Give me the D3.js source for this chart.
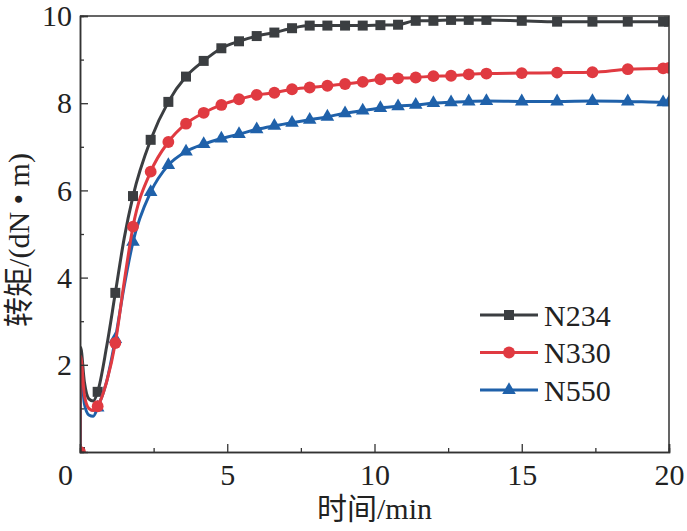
<!DOCTYPE html>
<html>
<head>
<meta charset="utf-8">
<script src="https://cdn.jsdelivr.net/npm/d3@7"></script>
<style>
  body { margin: 0; background: #fff; }
  svg { display: block; }
  text { font-family: "Liberation Serif", "Noto Sans CJK SC", serif; fill: #222; }
</style>
</head>
<body>
<div id="chart"></div>
<script>
// sample times (min); markers only sit on markerTimes
const times = [0, 0.02, 0.15, 0.3, 0.45, 0.6, 0.9, 1.2, 1.5, 1.8, 2.4, 3.0, 3.6, 4.2, 4.8, 5.4, 6.0, 6.6, 7.2, 7.8,
  8.4, 9.0, 9.6, 10.2, 10.8, 11.4, 12.0, 12.6, 13.2, 13.8, 15.0, 16.2, 17.4, 18.6, 19.8, 20];
const markerTimes = [0, 0.6, 1.2, 1.8, 2.4, 3.0, 3.6, 4.2, 4.8, 5.4, 6.0, 6.6, 7.2, 7.8,
  8.4, 9.0, 9.6, 10.2, 10.8, 11.4, 12.0, 12.6, 13.2, 13.8, 15.0, 16.2, 17.4, 18.6, 19.8, 20];

const n234 = [0, 2.4, 1.6, 1.22, 1.17, 1.38, 2.4, 3.65, 4.9, 5.87, 7.16, 8.03, 8.61, 8.97, 9.26, 9.42, 9.54, 9.62, 9.72, 9.78,
  9.78, 9.78, 9.78, 9.79, 9.80, 9.89, 9.89, 9.91, 9.91, 9.91, 9.89, 9.87, 9.87, 9.87, 9.87, 9.87];
const n330 = [0, 2.2, 1.3, 1.0, 0.95, 1.05, 1.6, 2.5, 3.9, 5.17, 6.43, 7.11, 7.53, 7.78, 7.96, 8.09, 8.19, 8.24, 8.32, 8.36,
  8.40, 8.44, 8.49, 8.55, 8.57, 8.59, 8.62, 8.63, 8.66, 8.68, 8.69, 8.70, 8.71, 8.78, 8.80, 8.81];
const n550 = [0, 2.0, 1.1, 0.85, 0.82, 1.02, 1.6, 2.59, 3.8, 4.82, 5.96, 6.58, 6.89, 7.06, 7.19, 7.29, 7.40, 7.48, 7.55, 7.62,
  7.69, 7.77, 7.83, 7.89, 7.93, 7.96, 8.00, 8.02, 8.04, 8.05, 8.04, 8.04, 8.05, 8.04, 8.02, 8.02];

const seriesNames = ["N234", "N330", "N550"];
const seriesColors = ["#3b3e41", "#e03a41", "#1f61aa"];
const seriesSymbols = [d3.symbolSquare, d3.symbolCircle, d3.symbolTriangle];
const symbolSizes = [100, 110, 80];

const xTicks = [0, 5, 10, 15, 20];
const yTicks = [2, 4, 6, 8, 10];

const width = 687, height = 531;
const margin = { top: 16, right: 18, bottom: 79, left: 80 };

const svg = d3.select('#chart')
  .append('svg')
    .attr('width', width)
    .attr('height', height);

const x = d3.scaleLinear().domain([0, 20]).range([margin.left, width - margin.right]);
const y = d3.scaleLinear().domain([0, 10]).range([height - margin.bottom, margin.top]);

svg.append('clipPath').attr('id', 'plot-clip')
  .append('rect')
    .attr('x', x(0)).attr('y', y(10))
    .attr('width', x(20) - x(0)).attr('height', y(0) - y(10));

// series, drawn so red sits on top
const allSeries = [
  { name: seriesNames[0], values: n234, i: 0 },
  { name: seriesNames[2], values: n550, i: 2 },
  { name: seriesNames[1], values: n330, i: 1 }
];

const line = d3.line()
  .x((d, i) => x(times[i]))
  .y(d => y(d))
  .curve(d3.curveMonotoneX);

const plot = svg.append('g').attr('clip-path', 'url(#plot-clip)');

allSeries.forEach(s => {
  const g = plot.append('g');
  g.append('path')
    .attr('d', line(s.values))
    .attr('fill', 'none')
    .attr('stroke', seriesColors[s.i])
    .attr('stroke-width', 3);

  const pts = s.values.map((v, i) => ({ t: times[i], v: v }))
    .filter(p => markerTimes.includes(p.t));
  g.selectAll('path.marker')
    .data(pts)
    .join('path')
      .attr('class', 'marker')
      .attr('transform', d => `translate(${x(d.t)},${y(d.v)})`)
      .attr('d', d3.symbol(seriesSymbols[s.i], symbolSizes[s.i]))
      .attr('fill', seriesColors[s.i]);
});

// frame (top and right)
svg.append('path')
  .attr('d', `M${x(0)},${y(10)}H${x(20)}V${y(0)}`)
  .attr('fill', 'none')
  .attr('stroke', '#333')
  .attr('stroke-width', 1.5);

// axes, ticks point inward
const xAxis = svg.append('g')
  .attr('transform', `translate(0,${y(0)})`)
  .call(d3.axisBottom(x).tickValues(xTicks).tickSize(-8).tickPadding(12));
svg.append('g')
  .attr('transform', `translate(0,${y(0)})`)
  .call(d3.axisBottom(x).tickValues([2.5, 7.5, 12.5, 17.5]).tickSize(-4).tickFormat(''));

const yAxis = svg.append('g')
  .attr('transform', `translate(${x(0)},0)`)
  .call(d3.axisLeft(y).tickValues(yTicks).tickSize(-8).tickPadding(8));
svg.append('g')
  .attr('transform', `translate(${x(0)},0)`)
  .call(d3.axisLeft(y).tickValues([1, 3, 5, 7, 9]).tickSize(-4).tickFormat(''));

svg.selectAll('.domain').attr('stroke', '#333').attr('stroke-width', 1.5);
svg.selectAll('.tick line').attr('stroke', '#333').attr('stroke-width', 1.3);
svg.selectAll('.tick text')
  .attr('font-family', '"Liberation Serif", serif')
  .attr('font-size', 30)
  .attr('fill', '#222');
xAxis.selectAll('.tick text').filter(d => d === 0).attr('x', -15);

// axis titles
svg.append('text')
  .attr('x', (x(0) + x(20)) / 2)
  .attr('y', 519)
  .attr('text-anchor', 'middle')
  .attr('font-size', 30)
  .text('时间/min');

svg.append('text')
  .attr('transform', 'translate(29,240) rotate(-90)')
  .attr('text-anchor', 'middle')
  .attr('font-size', 30)
  .text('转矩/(dN • m)');

// legend
const legendRows = [0, 1, 2];
const legend = svg.append('g');
legendRows.forEach((i, k) => {
  const ly = 315 + k * 37.5;
  legend.append('line')
    .attr('x1', 480).attr('x2', 538)
    .attr('y1', ly).attr('y2', ly)
    .attr('stroke', seriesColors[i])
    .attr('stroke-width', 3);
  legend.append('path')
    .attr('transform', `translate(509,${ly})`)
    .attr('d', d3.symbol(seriesSymbols[i], symbolSizes[i]))
    .attr('fill', seriesColors[i]);
  legend.append('text')
    .attr('x', 544)
    .attr('y', ly)
    .attr('dy', '0.35em')
    .attr('font-size', 30)
    .text(seriesNames[i]);
});
</script>
</body>
</html>
